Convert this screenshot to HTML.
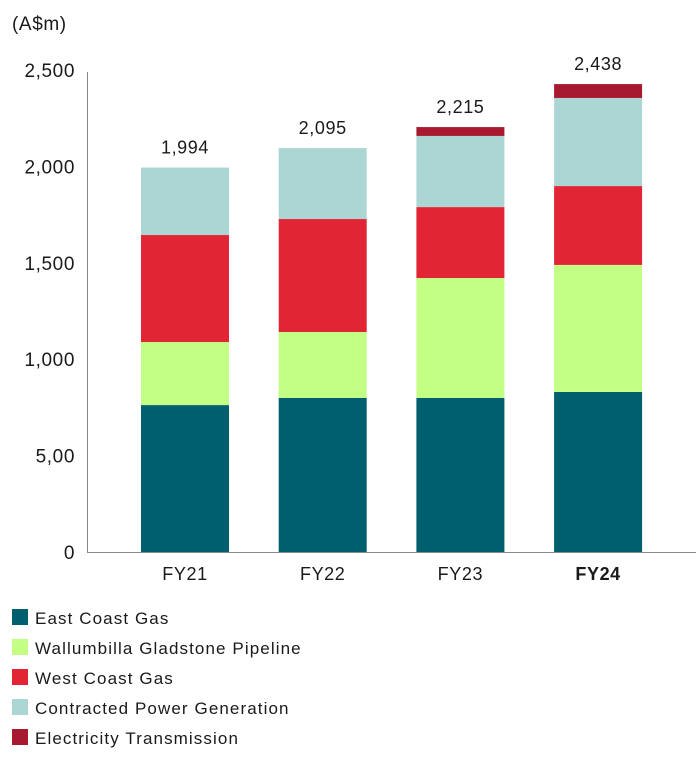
<!DOCTYPE html>
<html><head><meta charset="utf-8"><style>
body{margin:0;background:#fff;font-family:"Liberation Sans",sans-serif;}
svg text{font-family:"Liberation Sans",sans-serif;fill:#1a1a1a;letter-spacing:0.6px;}
svg g.legend text{letter-spacing:1.1px;}
</style></head><body>
<svg id="chart" width="696" height="753">
<text x="12" y="30" font-size="19">(A$m)</text>
<line x1="87.5" y1="72" x2="87.5" y2="552" stroke="#888"/>
<line x1="87" y1="552.5" x2="696" y2="552.5" stroke="#888"/>
<g id="bars"></g><g id="labels"></g>
<g class="legend">
<rect x="12" y="609" width="16" height="16" fill="#005f6f"/>
<text x="35" y="624" font-size="17">East Coast Gas</text>
<rect x="12" y="639" width="16" height="16" fill="#c4ff85"/>
<text x="35" y="654" font-size="17">Wallumbilla Gladstone Pipeline</text>
<rect x="12" y="669" width="16" height="16" fill="#e12535"/>
<text x="35" y="684" font-size="17">West Coast Gas</text>
<rect x="12" y="699" width="16" height="16" fill="#acd6d4"/>
<text x="35" y="714" font-size="17">Contracted Power Generation</text>
<rect x="12" y="729" width="16" height="16" fill="#a6192e"/>
<text x="35" y="744" font-size="17">Electricity Transmission</text>
</g>
</svg>
<script>
const categories=["FY21","FY22","FY23","FY24"];
const totals=["1,994","2,095","2,215","2,438"];
const eastCoastGas=[762,799,799,830];
const wallumbilla=[327,342,622,659];
const westCoastGas=[555,586,368,409];
const contractedPower=[350,368,369,457];
const electricityTransmission=[0,0,46,72];
const yTicks=[0,500,1000,1500,2000,2500];
const yTickLabels=["0","5,00","1,000","1,500","2,000","2,500"];
const series=[eastCoastGas,wallumbilla,westCoastGas,contractedPower,electricityTransmission];
const names=["east-coast-gas","wallumbilla","west-coast-gas","contracted-power","electricity-transmission"];
const colors=["#005f6f","#c4ff85","#e12535","#acd6d4","#a6192e"];
const NS="http://www.w3.org/2000/svg";
function y(v){return 552-v*0.1928;}
function xc(i){return 185+137.7*i;}
const svg=document.getElementById('chart');
const bars=document.getElementById('bars');
const labels=document.getElementById('labels');
yTicks.forEach((t,i)=>{
 const tx=document.createElementNS(NS,'text');
 tx.setAttribute('x',75);tx.setAttribute('y',y(t)+7);tx.setAttribute('text-anchor','end');tx.setAttribute('font-size','19');
 tx.textContent=yTickLabels[i];
 
 
 svg.appendChild(tx);
});
categories.forEach((c,i)=>{
 let cum=0;
 series.forEach((s,k)=>{
  const v=s[i]; if(v<=0)return;
  const r=document.createElementNS(NS,'rect');
  r.setAttribute('x',xc(i)-44);r.setAttribute('width',88);
  r.setAttribute('y',y(cum+v));r.setAttribute('height',v*0.1928);
  r.setAttribute('fill',colors[k]);
  
  
  bars.appendChild(r);cum+=v;
 });
 const t=document.createElementNS(NS,'text');
 t.setAttribute('x',xc(i));t.setAttribute('y',y(cum)-14);t.setAttribute('text-anchor','middle');t.setAttribute('font-size','18');
 t.textContent=totals[i];
 
 
 labels.appendChild(t);
 const xl=document.createElementNS(NS,'text');
 xl.setAttribute('x',xc(i));xl.setAttribute('y',580);xl.setAttribute('text-anchor','middle');xl.setAttribute('font-size','18');
 if(i===3)xl.setAttribute('font-weight','bold');
 xl.textContent=c;
 
 
 labels.appendChild(xl);
});
</script>
</body></html>
